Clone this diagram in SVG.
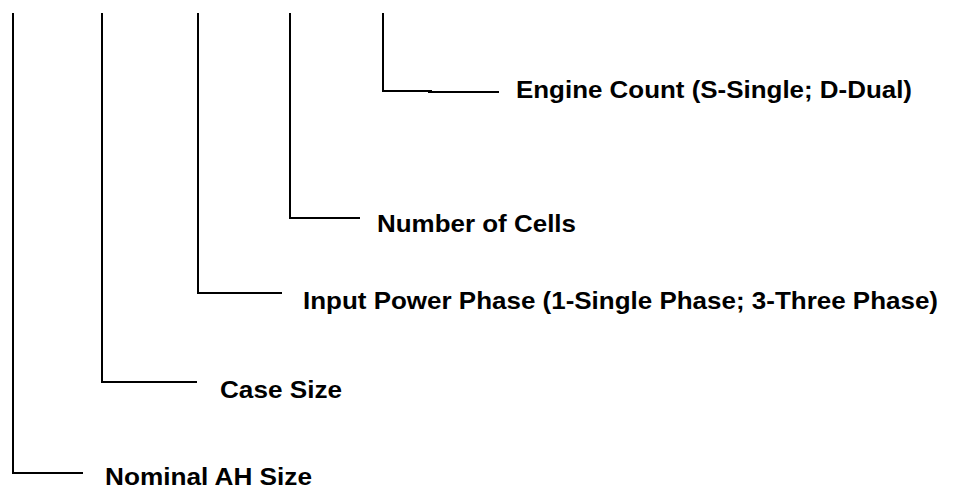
<svg xmlns="http://www.w3.org/2000/svg" width="956" height="491" viewBox="0 0 956 491">
<style>
.lbl{font-family:"Liberation Sans",Arial,sans-serif;font-weight:bold;font-size:24px;fill:#000}
.ln{fill:none;stroke:#000;stroke-width:2}
</style>
<rect width="956" height="491" fill="#fff"/>
<g id="connectors">
<path class="ln" d="M383,13 V91 H432"/>
<path class="ln" d="M428,92 H499"/>
<path class="ln" d="M290,13 V218 H360"/>
<path class="ln" d="M198,13 V293 H282"/>
<path class="ln" d="M102,13 V382 H197"/>
<path class="ln" d="M13,13 V473 H83"/>
</g>
<g id="engine-count"><text class="lbl" x="516" y="98" textLength="396" lengthAdjust="spacingAndGlyphs">Engine Count (S-Single; D-Dual)</text></g>
<g id="number-of-cells"><text class="lbl" x="377" y="232" textLength="199" lengthAdjust="spacingAndGlyphs">Number of Cells</text></g>
<g id="input-power-phase"><text class="lbl" x="303" y="309" textLength="635" lengthAdjust="spacingAndGlyphs">Input Power Phase (1-Single Phase; 3-Three Phase)</text></g>
<g id="case-size"><text class="lbl" x="220" y="398" textLength="122" lengthAdjust="spacingAndGlyphs">Case Size</text></g>
<g id="nominal-ah-size"><text class="lbl" x="105" y="485" textLength="207" lengthAdjust="spacingAndGlyphs">Nominal AH Size</text></g>
</svg>
